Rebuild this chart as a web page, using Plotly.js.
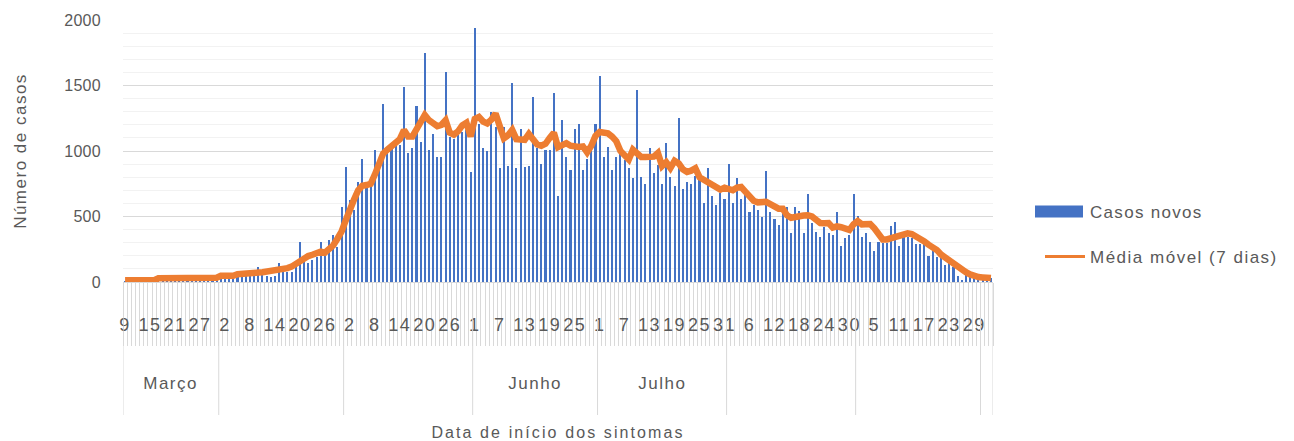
<!DOCTYPE html>
<html><head><meta charset="utf-8">
<script src="https://cdn.plot.ly/plotly-3.0.1.min.js"></script>
<style>
html,body{margin:0;padding:0;background:#fff;}
#chart{width:1294px;height:441px;}
#chart text { letter-spacing:1.5px; }
#chart .ytick text { letter-spacing:0.3px; }
#chart text.xtitle { letter-spacing:2.1px; }
#chart .legendtext { letter-spacing:1.3px; }
#chart .scrollbox { clip-path:none !important; }
#chart .legendlines path { stroke-width:3px !important; }
</style></head><body><div id="chart"></div>
<script>
// Months covered by the series (9 March to 3 October)
const monthNames = ['Março','Abril','Maio','Junho','Julho','Agosto','Setembro','Outubro'];
const monthFirstDay = [9,1,1,1,1,1,1,1];
const monthLastDay = [31,30,31,30,31,31,30,3];
// Excel only printed some of the month names
const monthLabels = ['Março','','','Junho','Julho','','',''];

const casosNovos = [
  8,10,12,15,14,13,16,15,
  25,28,30,26,32,29,31,34,28,33,30,35,31,32,36,
  42,50,45,52,
  55,62,58,66,60,
  117,65,
  46,40,46,142,87,79,79,117,308,155,148,168,188,308,244,320,359,270,575,875,626,550,761,936,728,804,1008,931,1356,982,1020,1046,1046,1491,982,
  1020,1344,1071,1746,1008,1127,952,952,1600,1109,1089,1122,1148,1160,842,1936,1206,1020,1003,1300,1180,868,1181,885,1520,868,1165,880,885,1410,1020,900,1008,
  1008,1440,656,1237,957,855,1165,1206,855,936,1008,1206,1573,952,1033,855,952,995,931,868,791,1466,804,748,1020,830,893,748,1059,804,735,1249,707,
  760,748,809,791,600,873,656,588,677,631,898,600,791,631,664,537,588,550,494,847,532,478,435,524,575,372,575,545,372,669,453,384,346,
  422,377,359,537,277,333,359,669,506,346,377,308,239,308,295,295,427,455,277,346,341,333,290,290,290,198,244,193,188,130,142,117,46,15,61,61,33,46,28,20,28
];

const mediaMovel = [
  13,13,13,13,13,13,13,13,
  28,28,29,29,30,30,30,31,31,31,32,32,32,33,33,
  47,47,48,48,
  60,60,61,61,62,
  72,75,
  79,80,85,100,104,106,117,140,160,186,198,208,215,232,224,250,280,330,384,470,560,630,700,735,740,750,820,920,980,1010,1035,1055,1090,1160,1110,
  1110,1160,1230,1275,1235,1211,1190,1200,1235,1140,1125,1150,1195,1215,1110,1245,1260,1225,1211,1240,1286,1190,1097,1120,1160,1090,1085,1085,1130,1080,1050,1040,1055,
  1100,1140,1030,1050,1060,1040,1030,1030,1035,990,1040,1115,1145,1145,1135,1110,1075,1000,960,935,1010,985,955,955,962,957,985,885,915,870,925,905,860,
  840,850,868,800,780,760,745,728,705,720,705,700,720,725,690,645,620,608,610,612,595,580,560,560,510,490,500,500,508,510,500,475,450,
  448,450,415,425,418,405,398,440,465,440,440,443,410,365,325,325,335,352,365,370,372,366,350,330,310,285,270,245,210,185,160,140,125,100,75,58,45,38,35,35,30
];

// build the category list (day of month for each position)
const dayOfMonth = [];
const monthStart = [];
monthNames.forEach((m, k) => {
  monthStart.push(dayOfMonth.length);
  for (let d = monthFirstDay[k]; d <= monthLastDay[k]; d++) dayOfMonth.push(d);
});
const N = dayOfMonth.length;
const idx = dayOfMonth.map((_, i) => i);
const tickStep = 6;
const tickVals = idx.filter(i => i % tickStep === 0);
const tickText = tickVals.map(i => String(dayOfMonth[i]));

const txt = '#595959';
const grid = '#d9d9d9';
const plotH = 262;
const plotW = 870;

const shapes = [];
const bounds = monthStart.concat([N]);
bounds.forEach(b => {
  shapes.push({type:'line', xref:'x', yref:'paper', x0:b-0.5, x1:b-0.5, y0:0, y1:-133/plotH,
    line:{color:grid, width:1}});
});
const annotations = [];
monthNames.forEach((m, k) => {
  if (!monthLabels[k]) return;
  const a = monthStart[k], e = bounds[k+1];
  annotations.push({xref:'x', yref:'paper', x:(a+e-1)/2, y:-102/plotH, yanchor:'middle',
    text:monthLabels[k], showarrow:false, font:{size:17, color:txt}});
});

const traces = [
  {type:'bar', name:'Casos novos', x:idx, y:casosNovos, width:0.5,
   marker:{color:'#4472C4'}, legend:'legend', hoverinfo:'y'},
  {type:'scatter', mode:'lines', name:'Média móvel (7 dias)', x:idx, y:mediaMovel,
   line:{color:'#ED7D31', width:6.5}, legend:'legend2', hoverinfo:'y'}
];

const legX = (1040 - 123) / plotW;
const layout = {
  width:1294, height:441,
  margin:{l:123, r:301, t:20, b:159},
  paper_bgcolor:'#ffffff', plot_bgcolor:'#ffffff',
  font:{family:'Liberation Sans, Arial, sans-serif', size:16, color:txt},
  showlegend:true,
  bargap:0,
  xaxis:{range:[-0.5, N-0.5], tickmode:'array', tickvals:tickVals, ticktext:tickText,
    ticks:'', ticklabelstandoff:26, tickangle:0, showgrid:false, zeroline:false,
    showline:true, linecolor:grid, linewidth:1,
    minor:{tickmode:'linear', tick0:-0.5, dtick:1, ticks:'outside', ticklen:63, tickcolor:grid, tickwidth:1, showgrid:false},
    tickfont:{size:18, color:txt},
    title:{text:'Data de início dos sintomas', font:{size:16, color:txt}, standoff:93}},
  yaxis:{range:[0,2000], tickmode:'linear', tick0:0, dtick:500, ticks:'', ticklabelstandoff:21,
    showgrid:true, gridcolor:grid, gridwidth:1, zeroline:false, showline:false,
    minor:{tickmode:'linear', dtick:100, showgrid:true, gridcolor:'#f2f2f2', gridwidth:1},
    tickfont:{size:16, color:txt},
    title:{text:'Número de casos', font:{size:17, color:txt}, standoff:34}},
  legend:{x:legX, xanchor:'left', y:(282-212)/plotH, yanchor:'middle', itemwidth:40, bgcolor:'rgba(0,0,0,0)', font:{size:17, color:txt}},
  legend2:{x:legX, xanchor:'left', y:(282-257)/plotH, yanchor:'middle', itemwidth:40, bgcolor:'rgba(0,0,0,0)', font:{size:17, color:txt}},
  shapes:shapes,
  annotations:annotations
};

Plotly.newPlot('chart', traces, layout, {displayModeBar:false, staticPlot:true}).then(() => {
  // widen the bar legend key to the Excel-style rectangle
  document.querySelectorAll('#chart .legendpoints path').forEach(p => {
    const d = p.getAttribute('d') || '';
    if (/^M6,6H-6V-6H6Z$/.test(d)) p.setAttribute('d', 'M18,6H-30V-6H18Z');
  });
});
</script></body></html>
